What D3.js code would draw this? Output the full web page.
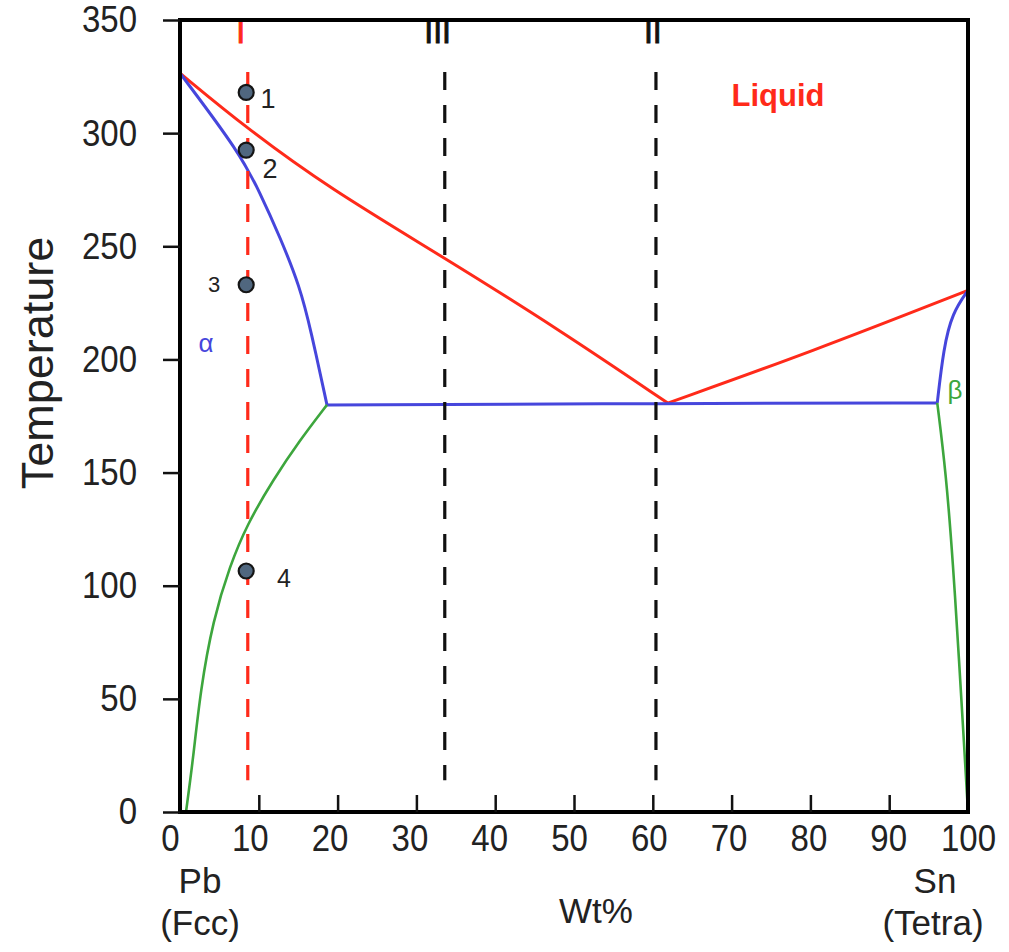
<!DOCTYPE html>
<html>
<head>
<meta charset="utf-8">
<script src="https://cdn.jsdelivr.net/npm/d3@7"></script>
<style>
  html, body { margin: 0; padding: 0; background: #fff; }
  svg text { font-family: "Liberation Sans", Arial, sans-serif; }
</style>
</head>
<body>
<svg id="chart" width="1009" height="952"></svg>
<script>
// ---------- data ----------
const xTicks = [10, 20, 30, 40, 50, 60, 70, 80, 90];
const xTickLabels = [0, 10, 20, 30, 40, 50, 60, 70, 80, 90, 100];
const yTicks = [0, 50, 100, 150, 200, 250, 300, 350];

// phase boundaries [wt% Sn, temperature]
const liquidusLeft  = [[0, 326.5], [8.4, 302.3], [19.0, 275.5], [33.0, 246.1], [48.2, 213.0], [61.9, 180.7]];
const liquidusRight = [[61.9, 180.7], [80, 203.2], [100, 230.5]];
const solidusLeft   = [[0, 326.5], [7.61, 291.2], [10.15, 273.6], [12.69, 254.1], [15.23, 232.0], [16.6, 213], [18.65, 179.9]];
const eutecticLine  = [[18.65, 179.9], [62, 180.5], [96.1, 180.8]];
const solidusRight  = [[96.1, 180.8], [96.9, 205], [98.0, 220.5], [100, 230.5]];
const solvusLeft    = [[0.76, 0], [1.65, 23], [2.6, 54], [4.19, 84.8], [6.35, 109], [8.5, 127], [11.8, 146.7], [15.23, 164.4], [18.65, 179.9]];
const solvusRight   = [[96.1, 180.8], [97.2, 150], [98.1, 110], [98.9, 65], [99.5, 30], [100, 0]];

// alloy composition lines
const alloyNames = ["I", "III", "II"];
const alloyX = [8.6, 33.6, 60.4];
const alloyLabelX = [7.7, 32.7, 60.0];
const alloyColors = ["#ff2a1a", "#111", "#111"];
const alloyTop = 327, alloyBottom = 14;

// cooling points on alloy I
const pointNames = ["1", "2", "3", "4"];
const pointX = [8.4, 8.4, 8.4, 8.4];
const pointT = [318, 292.5, 233, 106.5];

// ---------- layout ----------
const svg = d3.select("#chart");
const x = d3.scaleLinear().domain([0, 100]).range([180, 968]);
const xLab = d3.scaleLinear().domain([0, 100]).range([170, 968]);
const y = d3.scaleLinear().domain([0, 350]).range([812, 20]);

const RED = "#ff2a1a", BLUE = "#4646dc", GREEN = "#3da63d";

const line = d3.line().x(d => x(d[0])).y(d => y(d[1])).curve(d3.curveBasis);

// phase lines
const curves = [
  [liquidusLeft, RED, 3], [liquidusRight, RED, 3],
  [solidusLeft, BLUE, 3], [eutecticLine, BLUE, 3], [solidusRight, BLUE, 3],
  [solvusLeft, GREEN, 2.6], [solvusRight, GREEN, 2.6]
];
svg.append("g").selectAll("path").data(curves).join("path")
  .attr("d", d => line(d[0]))
  .attr("fill", "none")
  .attr("stroke", d => d[1])
  .attr("stroke-width", d => d[2])
  .attr("stroke-linejoin", "round");

// dashed composition lines
svg.append("g").selectAll("line").data(alloyX).join("line")
  .attr("x1", d => x(d)).attr("x2", d => x(d))
  .attr("y1", y(alloyTop)).attr("y2", y(alloyBottom))
  .attr("stroke", (d, i) => alloyColors[i])
  .attr("stroke-width", 3.2)
  .attr("stroke-dasharray", "18,15");

// roman numeral labels
svg.append("g").selectAll("text").data(alloyNames).join("text")
  .attr("x", (d, i) => x(alloyLabelX[i]))
  .attr("y", 43)
  .attr("text-anchor", "middle")
  .attr("font-size", 32)
  .attr("fill", (d, i) => alloyColors[i])
  .attr("stroke", (d, i) => alloyColors[i])
  .attr("stroke-width", 0.9)
  .text(d => d);

// frame
svg.append("rect")
  .attr("x", x(0)).attr("y", y(350))
  .attr("width", x(100) - x(0)).attr("height", y(0) - y(350))
  .attr("fill", "none").attr("stroke", "#000").attr("stroke-width", 4);

// y axis
const yAxis = svg.append("g").attr("transform", `translate(${x(0)},0)`)
  .call(d3.axisLeft(y).tickValues(yTicks).tickSize(17).tickPadding(26).tickFormat(d3.format("d")));
yAxis.select(".domain").remove();
yAxis.selectAll(".tick line").attr("stroke", "#111").attr("stroke-width", 2.5);
yAxis.selectAll(".tick text").attr("font-size", 33).attr("fill", "#222")
  .attr("font-family", "Liberation Sans, Arial, sans-serif")
  .attr("transform", "scale(1,1.13)");

// x axis ticks (inward)
const xAxis = svg.append("g").attr("transform", `translate(0,${y(0)})`)
  .call(d3.axisBottom(x).tickValues(xTicks).tickSize(-17).tickFormat(""));
xAxis.select(".domain").remove();
xAxis.selectAll(".tick line").attr("stroke", "#111").attr("stroke-width", 2.5);

// x tick labels
const xLabAxis = svg.append("g").attr("transform", `translate(0,${y(0)})`)
  .call(d3.axisBottom(xLab).tickValues(xTickLabels).tickSize(0).tickPadding(11).tickFormat(d3.format("d")));
xLabAxis.select(".domain").remove();
xLabAxis.selectAll(".tick text").attr("font-size", 33).attr("fill", "#222")
  .attr("font-family", "Liberation Sans, Arial, sans-serif")
  .attr("transform", "scale(1,1.13)");

// axis titles
svg.append("text")
  .attr("transform", "translate(53,363) rotate(-90)")
  .attr("text-anchor", "middle").attr("font-size", 45).attr("fill", "#222")
  .text("Temperature");

const bottomTexts = [
  ["Pb", 200, 893], ["(Fcc)", 200, 935], ["Wt%", 596, 923],
  ["Sn", 935, 893], ["(Tetra)", 933, 935]
];
svg.append("g").selectAll("text").data(bottomTexts).join("text")
  .attr("x", d => d[1]).attr("y", d => d[2])
  .attr("text-anchor", "middle").attr("font-size", 35).attr("fill", "#222")
  .text(d => d[0]);

// region labels
svg.append("text").attr("x", 778).attr("y", 106).attr("text-anchor", "middle")
  .attr("font-size", 31).attr("font-weight", "bold").attr("fill", RED).text("Liquid");
svg.append("text").attr("x", 206).attr("y", 352).attr("text-anchor", "middle")
  .attr("font-size", 26).attr("fill", BLUE).text("α");
svg.append("text").attr("x", 955).attr("y", 399).attr("text-anchor", "middle")
  .attr("font-size", 26).attr("fill", GREEN).text("β");

// points
svg.append("g").selectAll("circle").data(pointT).join("circle")
  .attr("cx", (d, i) => x(pointX[i])).attr("cy", d => y(d))
  .attr("r", 7.5)
  .attr("fill", "#50677f").attr("stroke", "#151515").attr("stroke-width", 2.2);

const pointLabelPos = [[268, 108, 27], [270, 178, 27], [214, 292, 22], [284, 587, 25]];
svg.append("g").selectAll("text").data(pointNames).join("text")
  .attr("x", (d, i) => pointLabelPos[i][0]).attr("y", (d, i) => pointLabelPos[i][1])
  .attr("text-anchor", "middle")
  .attr("font-size", (d, i) => pointLabelPos[i][2])
  .attr("fill", "#222")
  .text(d => d);
</script>
</body>
</html>
